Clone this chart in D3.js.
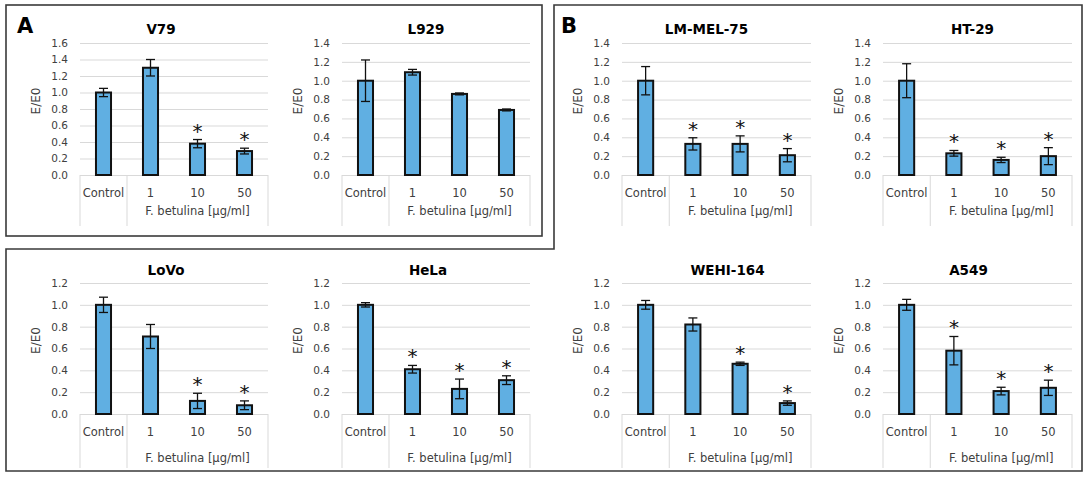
<!DOCTYPE html>
<html>
<head>
<meta charset="utf-8">
<script src="https://cdn.jsdelivr.net/npm/d3@7"></script>
<style>
  body { margin: 0; background: #fff; }
  text { font-family: "DejaVu Sans", "Liberation Sans", sans-serif; }
</style>
</head>
<body>
<svg id="fig" width="1086" height="479"></svg>
<script>
// ---- data -------------------------------------------------------------
const categories = ["Control", "1", "10", "50"];
const groupLabel = "F. betulina [µg/ml]";
const yAxisTitle = "E/E0";

const cellLines = ["V79", "L929", "LM-MEL-75", "HT-29", "LoVo", "HeLa", "WEHI-164", "A549"];
const yMaxima   = [1.6, 1.4, 1.4, 1.4, 1.2, 1.2, 1.2, 1.2];

// mean E/E0 for Control, 1, 10, 50 µg/ml
const v79Mean    = [1.00, 1.30, 0.38, 0.29];
const l929Mean   = [1.00, 1.09, 0.86, 0.69];
const lmmel75Mean= [1.00, 0.33, 0.33, 0.21];
const ht29Mean   = [1.00, 0.23, 0.16, 0.20];
const lovoMean   = [1.00, 0.71, 0.12, 0.08];
const helaMean   = [1.00, 0.41, 0.23, 0.31];
const wehi164Mean= [1.00, 0.82, 0.46, 0.10];
const a549Mean   = [1.00, 0.58, 0.21, 0.24];

// error bar half-widths
const v79Err     = [0.05, 0.10, 0.05, 0.035];
const l929Err    = [0.22, 0.03, 0.01, 0.01];
const lmmel75Err = [0.15, 0.065, 0.085, 0.07];
const ht29Err    = [0.18, 0.03, 0.028, 0.09];
const lovoErr    = [0.07, 0.11, 0.07, 0.04];
const helaErr    = [0.02, 0.035, 0.09, 0.04];
const wehi164Err = [0.04, 0.06, 0.015, 0.02];
const a549Err    = [0.05, 0.13, 0.035, 0.07];

// significance marks (*)
const v79Sig     = [false, false, true, true];
const l929Sig    = [false, false, false, false];
const lmmel75Sig = [false, true, true, true];
const ht29Sig    = [false, true, true, true];
const lovoSig    = [false, false, true, true];
const helaSig    = [false, true, true, true];
const wehi164Sig = [false, false, true, true];
const a549Sig    = [false, true, true, true];

const means = [v79Mean, l929Mean, lmmel75Mean, ht29Mean, lovoMean, helaMean, wehi164Mean, a549Mean];
const errs  = [v79Err, l929Err, lmmel75Err, ht29Err, lovoErr, helaErr, wehi164Err, a549Err];
const sigs  = [v79Sig, l929Sig, lmmel75Sig, ht29Sig, lovoSig, helaSig, wehi164Sig, a549Sig];

// ---- layout -----------------------------------------------------------
const columns = [[80, 268], [342, 530], [622, 811], [883, 1072]];
const rows = [
  { top: 43,  zero: 175, title: 34,  label: 193, group: 211, bottom: 226 },
  { top: 283, zero: 414, title: 275, label: 432, group: 458, bottom: 468 }
];
const titleShift = [-13, -10, -10, -5, -8, -8, 11, -9];

const svg = d3.select("#fig");
const gridColor = "#d9d9d9";
const textColor = "#404040";
const barFill = "#60afe2";

// frames
svg.append("rect")
  .attr("x", 6).attr("y", 5).attr("width", 536).attr("height", 231)
  .attr("fill", "none").attr("stroke", "#3a3a3a").attr("stroke-width", 1.6);
svg.append("path")
  .attr("d", d3.line()([[554, 5], [1082, 5], [1082, 471], [6, 471], [6, 249], [554, 249]]) + "Z")
  .attr("fill", "none").attr("stroke", "#3a3a3a").attr("stroke-width", 1.6);

// panel letters
svg.append("text").attr("x", 17).attr("y", 33).text("A")
  .attr("font-size", 21).attr("font-weight", "bold").attr("fill", "#000");
svg.append("text").attr("x", 561).attr("y", 33).text("B")
  .attr("font-size", 21).attr("font-weight", "bold").attr("fill", "#000");

cellLines.forEach((name, i) => {
  const [left, right] = columns[i % 4];
  const r = rows[Math.floor(i / 4)];
  const g = svg.append("g");

  const y = d3.scaleLinear().domain([0, yMaxima[i]]).range([r.zero, r.top]);
  const xBar = d3.scaleBand().domain(categories).range([left, right])
    .paddingInner(0.68).paddingOuter(0.34);
  const xCell = d3.scaleBand().domain(categories).range([left, right]).padding(0);

  // value axis with gridlines
  const ticks = d3.range(0, yMaxima[i] + 1e-9, 0.2);
  const axis = d3.axisLeft(y).tickValues(ticks).tickFormat(d3.format(".1f"))
    .tickSize(-(right - left)).tickPadding(12);
  const ag = g.append("g").attr("transform", `translate(${left},0)`).call(axis);
  ag.select(".domain").remove();
  ag.selectAll(".tick line").attr("stroke", gridColor).attr("stroke-width", 1);
  ag.selectAll(".tick text").attr("fill", textColor).attr("font-size", 10.5)
    .attr("font-family", "DejaVu Sans, sans-serif");

  // category table lines
  const divX = [left, xCell("1"), right];
  g.selectAll("line.cell").data(divX).join("line")
    .attr("x1", d => d).attr("x2", d => d)
    .attr("y1", r.zero).attr("y2", r.bottom)
    .attr("stroke", gridColor).attr("stroke-width", 1);

  // category labels
  g.selectAll("text.cat").data(categories).join("text")
    .attr("x", d => xCell(d) + xCell.bandwidth() / 2)
    .attr("y", r.label).attr("dy", "0.35em")
    .attr("text-anchor", "middle").attr("font-size", 11.5).attr("fill", textColor)
    .text(d => d);
  g.append("text")
    .attr("x", (xCell("1") + right) / 2).attr("y", r.group).attr("dy", "0.35em")
    .attr("text-anchor", "middle").attr("font-size", 11.5).attr("fill", textColor)
    .text(groupLabel);

  // axis title
  g.append("text")
    .attr("transform", `translate(${left - 44},${(r.top + r.zero) / 2 - 8}) rotate(-90)`)
    .attr("text-anchor", "middle").attr("dy", "0.35em")
    .attr("font-size", 12).attr("fill", textColor).text(yAxisTitle);

  // chart title
  g.append("text")
    .attr("x", (left + right) / 2 + titleShift[i]).attr("y", r.title)
    .attr("text-anchor", "middle").attr("font-size", 13.5).attr("font-weight", "bold")
    .attr("fill", "#000").text(name);

  const rowsData = categories.map((c, k) => ({ c, v: means[i][k], e: errs[i][k], s: sigs[i][k] }));

  // bars
  g.selectAll("rect.bar").data(rowsData).join("rect")
    .attr("x", d => xBar(d.c)).attr("width", xBar.bandwidth())
    .attr("y", d => y(d.v)).attr("height", d => r.zero - y(d.v))
    .attr("fill", barFill).attr("stroke", "#111").attr("stroke-width", 2);

  // error bars
  const cx = d => xBar(d.c) + xBar.bandwidth() / 2;
  const eb = g.selectAll("g.err").data(rowsData).join("g")
    .attr("stroke", "#111").attr("stroke-width", 1.3);
  eb.append("line").attr("x1", cx).attr("x2", cx)
    .attr("y1", d => y(d.v + d.e)).attr("y2", d => y(d.v - d.e));
  eb.append("line").attr("x1", d => cx(d) - 4.5).attr("x2", d => cx(d) + 4.5)
    .attr("y1", d => y(d.v + d.e)).attr("y2", d => y(d.v + d.e));
  eb.append("line").attr("x1", d => cx(d) - 4.5).attr("x2", d => cx(d) + 4.5)
    .attr("y1", d => y(d.v - d.e)).attr("y2", d => y(d.v - d.e));

  // significance asterisks
  g.selectAll("text.sig").data(rowsData.filter(d => d.s)).join("text")
    .attr("x", cx).attr("y", d => y(d.v + d.e) - 2)
    .attr("text-anchor", "middle").attr("font-size", 20).attr("fill", "#111")
    .text("*");
});
</script>
</body>
</html>
